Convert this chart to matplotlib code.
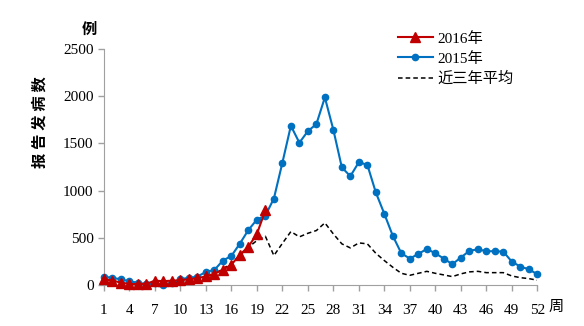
import matplotlib.pyplot as plt
import numpy as np

plt.rcParams['font.family'] = ['Liberation Serif', 'Noto Sans CJK SC']

weeks = np.arange(1, 53)

# 2016年, 第1-20周
cases_2016 = [60, 45, 25, 10, 8, 12, 45, 40, 45, 50, 60, 72, 90, 120, 160, 215, 320, 405, 540, 790]

# 2015年
cases_2015 = [88, 74, 60, 38, 24, 7, 17, 2, 17, 63, 74, 88, 138, 159, 258, 307, 438, 582, 692, 735,
              915, 1294, 1686, 1506, 1629, 1703, 1986, 1643, 1244, 1152, 1300, 1272, 979, 753, 519, 335,
              279, 328, 381, 335, 279, 219, 290, 360, 378, 357, 357, 353, 247, 194, 166, 113]

# 近三年平均
cases_avg = [60, 50, 40, 25, 15, 10, 10, 15, 20, 35, 50, 60, 75, 117, 170, 229, 311, 399, 470, 515,
             311, 440, 565, 509, 547, 576, 657, 540, 435, 392, 445, 435, 335, 258, 187, 123,
             102, 123, 144, 123, 106, 88, 117, 138, 144, 130, 130, 130, 95, 77, 67, 50]

xticks = np.arange(1, 53, 3)
yticks = [0, 500, 1000, 1500, 2000, 2500]

fig = plt.figure(figsize=(5.84, 3.26), dpi=100)
ax = fig.add_axes([0.178, 0.126, 0.742, 0.724])

ax.plot(weeks, cases_avg, color='black', lw=1.1, linestyle=(0, (3, 2)), label='近三年平均', zorder=2)
ax.plot(weeks, cases_2015, color='#0070C0', lw=1.5, marker='o', markersize=4.5,
        label='2015年', clip_on=False, zorder=3)
ax.plot(weeks[:len(cases_2016)], cases_2016, color='#C00000', lw=1.5, marker='^', markersize=6.5,
        label='2016年', clip_on=False, zorder=4)

ax.set_xlim(1, 52)
ax.set_ylim(0, 2500)
ax.set_xticks(xticks)
ax.set_yticks(yticks)
ax.tick_params(axis='both', colors='#A0A0A0', length=4, width=1, labelcolor='black', labelsize=11)
ax.tick_params(axis='x', pad=10)

for side in ['top', 'right']:
    ax.spines[side].set_visible(False)
for side in ['left', 'bottom']:
    ax.spines[side].set_color('#A0A0A0')

# 图例顺序: 2016年, 2015年, 近三年平均
handles, labels = ax.get_legend_handles_labels()
order = [2, 1, 0]
ax.legend([handles[i] for i in order], [labels[i] for i in order],
          loc='upper left', bbox_to_anchor=(384 / 584, 1 - 18 / 326), bbox_transform=fig.transFigure,
          frameon=False, fontsize=11, handlelength=2.3, handletextpad=0.3, labelspacing=0.4)

fig.text(40 / 584, 1 - 122 / 326, '报 告 发 病 数', rotation=90, ha='center', va='center',
         fontsize=11, fontweight='bold')
fig.text(89 / 584, 1 - 30 / 326, '例', ha='center', va='center', fontsize=11, fontweight='bold')
fig.text(556 / 584, 1 - 307 / 326, '周', ha='center', va='center', fontsize=11)

fig.savefig('out.png', dpi=100)
